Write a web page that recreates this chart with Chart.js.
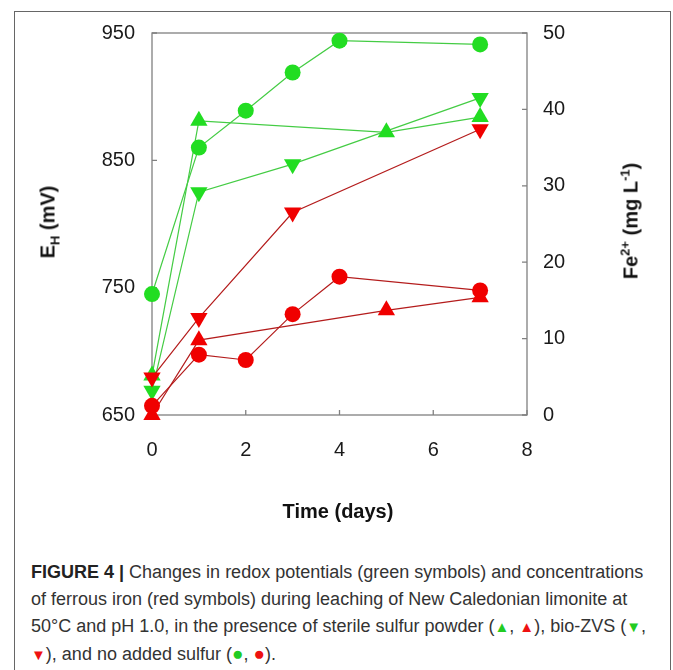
<!DOCTYPE html>
<html lang="en">
<head>
  <meta charset="UTF-8" />
  <title>Figure 4</title>
  <script src="https://cdn.jsdelivr.net/npm/chart.js"></script>
  <style>
    body { margin: 0; background: #fff; font-family: "Liberation Sans", Arial, sans-serif; }
    #page { position: relative; width: 673px; height: 670px; overflow: hidden; }
    #frame { position: absolute; left: 14px; top: 11px; width: 655px; height: 700px; border: 1px solid #666; }
    #chartBox { position: absolute; left: 0; top: 0; width: 673px; height: 545px; }
    .title { position: absolute; font-weight: bold; font-size: 20px; color: #111; white-space: nowrap; transform: translate(-50%, -50%); }
    .rot { transform: translate(-50%, -50%) rotate(-90deg); }
    .title sub, .title sup { font-size: 13px; line-height: 0; }
    #caption { position: absolute; left: 31px; top: 559px; font-size: 18px; line-height: 27px; color: #333; white-space: nowrap; }
    #caption b { color: #222; }
    .g, .r { font-size: 15px; }
    .g { color: #22cc22; }
    .r { color: #ee1111; }
    .dot { font-size: 19px; }
  </style>
</head>
<body>
  <div id="page">
    <div id="frame"></div>
    <div id="chartBox"><canvas id="fig4" width="673" height="545"></canvas></div>
    <div class="title rot" style="left:48px; top:222px">E<sub>H</sub> (mV)</div>
    <div class="title rot" style="left:631px; top:221px">Fe<sup>2+</sup> (mg L<sup>-1</sup>)</div>
    <div class="title" style="left:338px; top:511px">Time (days)</div>
    <div id="caption"><b>FIGURE 4 |</b> Changes in redox potentials (green symbols) and concentrations<br>of ferrous iron (red symbols) during leaching of New Caledonian limonite at<br>50°C and pH 1.0, in the presence of sterile sulfur powder (<span class="g">▲</span>, <span class="r">▲</span>), bio-ZVS (<span class="g">▼</span>,<br><span class="r">▼</span>), and no added sulfur (<span class="g dot">●</span>, <span class="r dot">●</span>).</div>
  </div>

  <script>
    // sampling days for each treatment
    const daysNoSulfur = [0, 1, 2, 3, 4, 7];
    const daysSterile = [0, 1, 5, 7];
    const daysBioZvs = [0, 1, 3, 7];

    // redox potential E_H (mV), left axis
    const ehNoSulfur = [745, 860, 889, 919, 944, 941];
    const ehSterile = [681, 881, 872, 884];
    const ehBioZvs = [669, 825, 847, 899];

    // ferrous iron (mg/L), right axis
    const feNoSulfur = [1.2, 7.9, 7.2, 13.2, 18.1, 16.3];
    const feSterile = [0, 9.8, 13.7, 15.4];
    const feBioZvs = [4.9, 12.7, 26.5, 37.4];

    const xTicks = [0, 2, 4, 6, 8];
    const ehTicks = [650, 750, 850, 950];
    const feTicks = [0, 10, 20, 30, 40, 50];

    const GREEN = '#22dd22', GREEN_LINE = '#44cc44';
    const RED = '#f00000', RED_LINE = '#b41c1c';
    const tickFont = { family: '"Liberation Sans", Arial, sans-serif', size: 20 };

    const pts = (days, vals) => days.map((d, i) => ({ x: d, y: vals[i] }));

    function series(days, vals, axis, color, lineColor, shape) {
      return {
        data: pts(days, vals),
        yAxisID: axis,
        borderColor: lineColor,
        borderWidth: 1.2,
        backgroundColor: color,
        pointBackgroundColor: color,
        pointBorderColor: color,
        pointBorderWidth: 0,
        pointStyle: shape === 'circle' ? 'circle' : 'triangle',
        rotation: shape === 'down' ? 180 : 0,
        pointRadius: shape === 'circle' ? 8 : 10,
        tension: 0,
        clip: false
      };
    }

    // inner frame and inward ticks
    const framePlugin = {
      id: 'frame',
      beforeDatasetsDraw(chart) {
        const { ctx, chartArea: a, scales } = chart;
        ctx.save();
        ctx.strokeStyle = '#808080';
        ctx.lineWidth = 1.3;
        ctx.strokeRect(a.left, a.top, a.right - a.left, a.bottom - a.top);
        ctx.beginPath();
        xTicks.forEach(v => { const p = scales.x.getPixelForValue(v); ctx.moveTo(p, a.bottom); ctx.lineTo(p, a.bottom - 5); });
        ehTicks.forEach(v => { const p = scales.y.getPixelForValue(v); ctx.moveTo(a.left, p); ctx.lineTo(a.left + 5, p); });
        feTicks.forEach(v => { const p = scales.y2.getPixelForValue(v); ctx.moveTo(a.right, p); ctx.lineTo(a.right - 5, p); });
        ctx.stroke();
        ctx.restore();
      }
    };

    new Chart(document.getElementById('fig4'), {
      type: 'line',
      data: {
        datasets: [
          series(daysNoSulfur, feNoSulfur, 'y2', RED, RED_LINE, 'circle'),
          series(daysSterile, feSterile, 'y2', RED, RED_LINE, 'up'),
          series(daysBioZvs, feBioZvs, 'y2', RED, RED_LINE, 'down'),
          series(daysNoSulfur, ehNoSulfur, 'y', GREEN, GREEN_LINE, 'circle'),
          series(daysSterile, ehSterile, 'y', GREEN, GREEN_LINE, 'up'),
          series(daysBioZvs, ehBioZvs, 'y', GREEN, GREEN_LINE, 'down')
        ]
      },
      options: {
        responsive: false,
        animation: false,
        layout: { padding: { top: 33, left: 0, right: 0, bottom: 0 } },
        plugins: { legend: { display: false }, tooltip: { enabled: false } },
        scales: {
          x: {
            type: 'linear', min: 0, max: 8,
            afterBuildTicks: s => { s.ticks = xTicks.map(v => ({ value: v })); },
            afterFit: s => { s.height = 130; },
            grid: { display: false }, border: { display: false },
            ticks: { font: tickFont, color: '#1a1a1a', padding: 15, maxRotation: 0 }
          },
          y: {
            position: 'left', min: 650, max: 950,
            afterBuildTicks: s => { s.ticks = ehTicks.map(v => ({ value: v })); },
            afterFit: s => { s.width = 152; },
            grid: { display: false }, border: { display: false },
            ticks: { font: tickFont, color: '#1a1a1a', padding: 9 }
          },
          y2: {
            position: 'right', min: 0, max: 50,
            afterBuildTicks: s => { s.ticks = feTicks.map(v => ({ value: v })); },
            afterFit: s => { s.width = 146; },
            grid: { display: false }, border: { display: false },
            ticks: { font: tickFont, color: '#1a1a1a', padding: 8 }
          }
        }
      },
      plugins: [framePlugin]
    });
  </script>
</body>
</html>
